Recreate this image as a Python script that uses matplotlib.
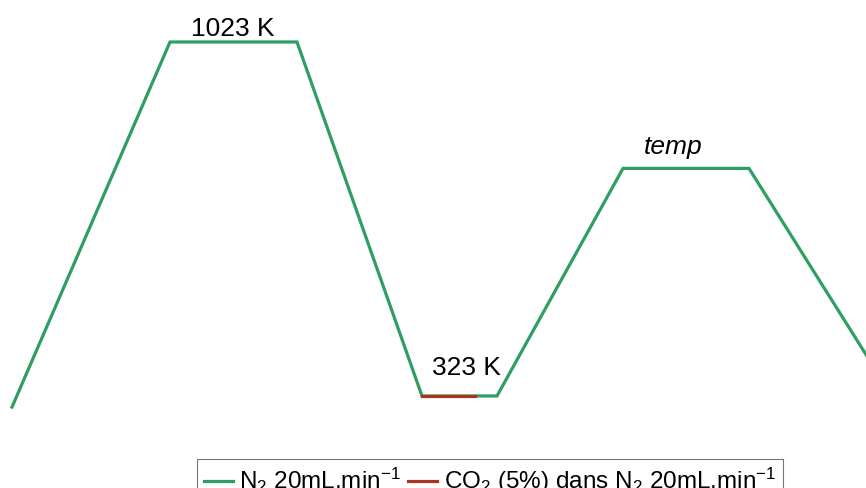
import matplotlib
matplotlib.use("Agg")
import matplotlib.pyplot as plt

plt.rcParams['font.family'] = ['Liberation Sans', 'DejaVu Sans']
plt.rcParams['mathtext.fontset'] = 'custom'
plt.rcParams['mathtext.rm'] = 'Liberation Sans'
plt.rcParams['mathtext.it'] = 'Liberation Sans:italic'

# Temperature program (time in arbitrary units, temperature in K)
time_n2 = [0, 158, 285, 410, 485, 611, 737, 880]
temp_n2 = [301, 1023, 1023, 323, 323, 773, 773, 323]
time_co2 = [410, 463]
temp_co2 = [323, 323]

labels = ["1023 K", "323 K", "temp"]
label_x = [221, 454, 661]
label_y = [1023, 323, 773]

green = '#2E9E62'
red = '#A8371F'

fig = plt.figure(figsize=(8.66, 4.88), dpi=100)
ax = fig.add_axes([0, 0, 1, 1])
ax.plot(time_n2, temp_n2, color=green, lw=2.3, solid_joinstyle='miter',
        label=r'N$\mathregular{_2}$ 20mL.min$\mathregular{^{-1}}$')
ax.plot(time_co2, temp_co2, color=red, lw=2.3,
        label=r'CO$\mathregular{_2}$ (5%) dans N$\mathregular{_2}$ 20mL.min$\mathregular{^{-1}}$')

ax.set_xlim(-12, 854)
ax.set_ylim(141, 1106)
ax.axis('off')

offsets = [6, 21, 14]  # pixels above the plateau
styles = ['normal', 'normal', 'italic']
for lab, x, y, off, st in zip(labels, label_x, label_y, offsets, styles):
    ax.annotate(lab, (x, y), xytext=(0, off), textcoords='offset pixels',
                ha='center', va='baseline', fontsize=19, style=st)

leg = ax.legend(loc='upper center', bbox_to_anchor=(490/866, 1 - 459/488), ncol=2,
                fontsize=17.5, frameon=True, fancybox=False, handlelength=1.2,
                handletextpad=0.25, columnspacing=0.3, borderaxespad=0, borderpad=0.3)
leg.get_frame().set_edgecolor('#555555')
leg.get_frame().set_linewidth(0.8)

fig.savefig('out.png', dpi=100)
